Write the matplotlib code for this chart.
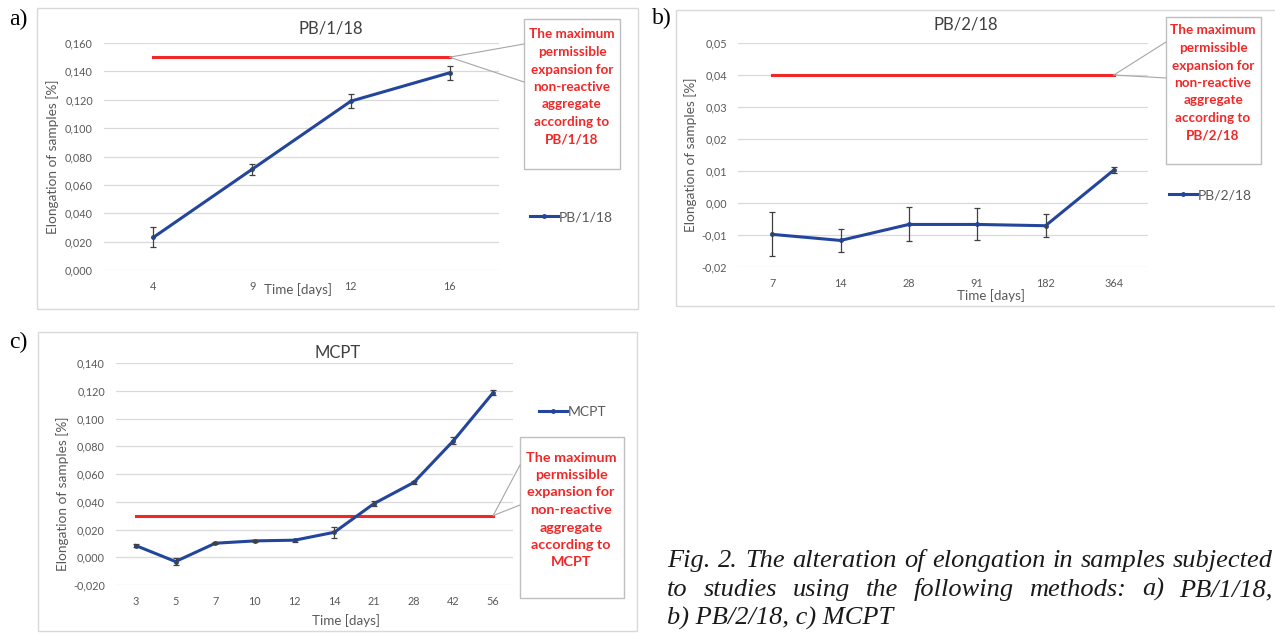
import matplotlib
matplotlib.use("Agg")
import matplotlib.pyplot as plt
import numpy as np
from matplotlib.patches import Rectangle, ConnectionPatch

# ---- data ----
a_days = ["4", "9", "12", "16"]
a_vals = [0.023, 0.071, 0.119, 0.139]
a_err = [0.007, 0.0037, 0.005, 0.005]
a_limit = 0.150
a_yticks = [0.0, 0.02, 0.04, 0.06, 0.08, 0.10, 0.12, 0.14, 0.16]
a_ylabels = ["0,000", "0,020", "0,040", "0,060", "0,080", "0,100", "0,120", "0,140", "0,160"]

b_days = ["7", "14", "28", "91", "182", "364"]
b_vals = [-0.0098, -0.0117, -0.0067, -0.0067, -0.0071, 0.0103]
b_err = [0.0069, 0.0037, 0.0053, 0.0050, 0.0036, 0.0010]
b_limit = 0.040
b_yticks = [-0.02, -0.01, 0.0, 0.01, 0.02, 0.03, 0.04, 0.05]
b_ylabels = ["-0,02", "-0,01", "0,00", "0,01", "0,02", "0,03", "0,04", "0,05"]

c_days = ["3", "5", "7", "10", "12", "14", "21", "28", "42", "56"]
c_vals = [0.0084, -0.0031, 0.0101, 0.0118, 0.0123, 0.0180, 0.0387, 0.0539, 0.0840, 0.1186]
c_err = [0.0010, 0.0025, 0.0008, 0.0005, 0.0010, 0.0038, 0.0015, 0.0013, 0.0025, 0.0020]
c_limit = 0.030
c_yticks = [-0.02, 0.0, 0.02, 0.04, 0.06, 0.08, 0.10, 0.12, 0.14]
c_ylabels = ["-0,020", "0,000", "0,020", "0,040", "0,060", "0,080", "0,100", "0,120", "0,140"]

note = "The maximum\npermissible\nexpansion for\nnon-reactive\naggregate\naccording to\n"
caption = ["Fig. 2. The alteration of elongation in samples subjected",
           "to studies using the following methods: a) PB/1/18,",
           "b) PB/2/18, c) MCPT"]

W, H = 1275, 633
BLUE = "#23469c"
RED = "#f02828"
GREY = "#595959"
SANS = "Lato"

fig = plt.figure(figsize=(W / 100, H / 100), dpi=100)


def fx(x):
    return x / W


def fy(y):
    return 1 - y / H


def box(x0, y0, x1, y1, ec, face="none"):
    fig.add_artist(Rectangle((fx(x0), fy(y1)), fx(x1 - x0), (y1 - y0) / H,
                             transform=fig.transFigure, fc=face, ec=ec, lw=1))


def panel(area, days, vals, errs, limit, yticks, ylabels, name,
          title_xy, ylab_xy, xlab_xy, leg_xy, nbox, ntext_xy, nfs, callout):
    l, t, r, b = area
    ax = fig.add_axes([fx(l), fy(b), fx(r - l), (b - t) / H])
    x = np.arange(len(days))
    ax.plot(x, [limit] * len(x), color=RED, lw=2.2, zorder=2, label="_nolegend_")
    ax.plot(x, vals, color=BLUE, lw=2.2, marker="o", ms=2.5, zorder=3, label=name)
    ax.errorbar(x, vals, yerr=errs, fmt="none", ecolor="#404040", elinewidth=0.9,
                capsize=2.5, capthick=0.9, zorder=4)
    ax.set_xlim(-0.5, len(x) - 0.5)
    ax.set_ylim(yticks[0], yticks[-1])
    ax.set_xticks(x, days)
    ax.set_yticks(yticks, ylabels)
    ax.grid(axis="y", color="#d9d9d9", lw=0.9)
    ax.set_axisbelow(True)
    for s in ax.spines.values():
        s.set_visible(False)
    ax.tick_params(length=0, pad=8, labelsize=7.8, labelcolor=GREY)
    for lab in ax.get_xticklabels() + ax.get_yticklabels():
        lab.set_family(SANS)

    fig.text(fx(title_xy[0]), fy(title_xy[1]), name, ha="center", va="center",
             fontsize=12, color="#404040", family=SANS)
    fig.text(fx(ylab_xy[0]), fy(ylab_xy[1]), "Elongation of samples [%]", rotation=90,
             ha="center", va="center", fontsize=9.8, color=GREY, family=SANS)
    fig.text(fx(xlab_xy[0]), fy(xlab_xy[1]), "Time [days]", ha="center", va="center",
             fontsize=9.6, color=GREY, family=SANS)

    ax.legend(loc="center left", bbox_to_anchor=(fx(leg_xy[0]), fy(leg_xy[1])),
              bbox_transform=fig.transFigure, frameon=False, numpoints=1,
              handlelength=2.0, handletextpad=0.1, borderpad=0, borderaxespad=0,
              prop={"family": SANS, "size": 10}, labelcolor=GREY)

    # note box with callout
    box(*nbox, ec="#bfbfbf", face="white")
    for cy in callout:
        fig.add_artist(ConnectionPatch(xyA=(len(x) - 1, limit), coordsA=ax.transData,
                                       xyB=(fx(nbox[0]), fy(cy)), coordsB=fig.transFigure,
                                       color="#a6a6a6", lw=0.8))
    fig.text(fx(ntext_xy[0]), fy(ntext_xy[1]), note + name, ha="center", va="center",
             color=RED, fontweight="bold", fontsize=nfs, linespacing=1.55, family=SANS)
    return ax


# outer frames
box(37, 8, 638, 309, ec="#d9d9d9")
box(676, 10, 1300, 306, ec="#d9d9d9")
box(38, 332, 637, 631, ec="#d9d9d9")

panel((104, 43, 499, 270), a_days, a_vals, a_err, a_limit, a_yticks, a_ylabels, "PB/1/18",
      (331, 28), (53, 157), (298, 290), (530, 217), (524, 19, 620, 169), (572, 87), 9.7, (44, 82))
panel((738, 43, 1148, 267), b_days, b_vals, b_err, b_limit, b_yticks, b_ylabels, "PB/2/18",
      (966, 25), (691, 155), (991, 296), (1169, 195), (1166, 17, 1261, 164), (1213, 83), 9.7, (42, 78))
panel((116, 363, 513, 585), c_days, c_vals, c_err, c_limit, c_yticks, c_ylabels, "MCPT",
      (338, 353), (63, 494), (346, 621), (539, 412), (520, 437, 624, 598), (571, 510), 10.4, (465, 505))

# panel letters
for s, xy in [("a)", (18, 19)), ("b)", (662, 18)), ("c)", (18, 342))]:
    fig.text(fx(xy[0]), fy(xy[1]), s, ha="center", va="center", fontsize=17,
             family="Liberation Serif")

# caption, first two lines justified between x0 and x1
x0, x1 = 667, 1273
renderer = fig.canvas.get_renderer()
probe = fig.text(0, 0, caption[0], fontsize=17, family="Liberation Serif", style="italic")
cap_size = 17 * (x1 - x0 - 4) / probe.get_window_extent(renderer).width
probe.remove()
cap_kw = dict(fontsize=cap_size, family="Liberation Serif", style="italic",
              va="baseline", ha="left", color="#1a1a1a")
for i, (line, yb) in enumerate(zip(caption, [567, 596, 625])):
    if i == 2:
        fig.text(fx(x0), fy(yb), line, **cap_kw)
        continue
    words = line.split()
    texts = [fig.text(0, 0, w, **cap_kw) for w in words]
    widths = [t.get_window_extent(renderer).width for t in texts]
    gap = (x1 - x0 - sum(widths)) / (len(words) - 1)
    xx = x0
    for t, w in zip(texts, widths):
        t.set_position((fx(xx), fy(yb)))
        xx += w + gap

fig.savefig("out.png", dpi=100)
